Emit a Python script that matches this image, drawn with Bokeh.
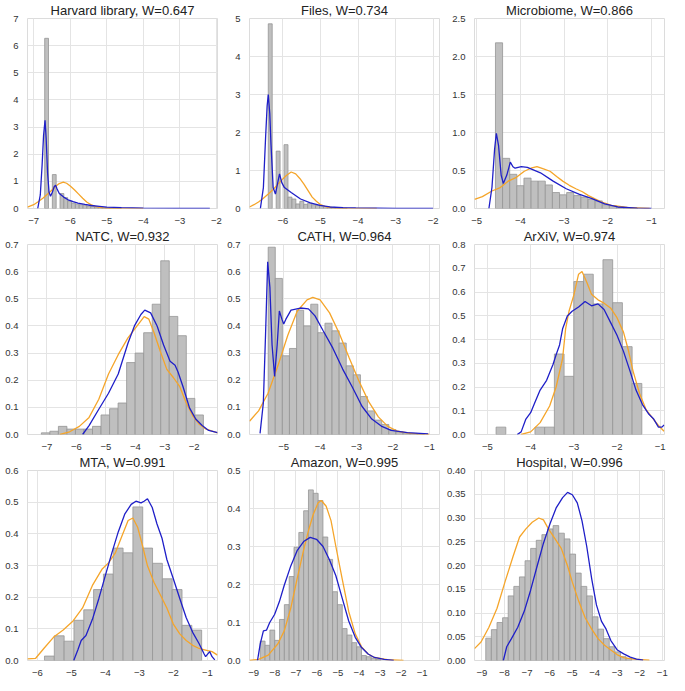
from bokeh.plotting import figure
from bokeh.layouts import gridplot
from bokeh.models import FixedTicker, Range1d
from bokeh.embed import file_html
from bokeh.resources import INLINE

# ---------------- data ----------------
titles = ["Harvard library, W=0.647", "Files, W=0.734", "Microbiome, W=0.866",
          "NATC, W=0.932", "CATH, W=0.964", "ArXiV, W=0.974",
          "MTA, W=0.991", "Amazon, W=0.995", "Hospital, W=0.996"]

# Harvard library
harvard_bin_start = -6.70
harvard_bin_width = 0.105
harvard_hist = [6.27, 0, 1.25, 0, 0.55, 0.40, 0.28, 0.20, 0.16, 0.14, 0.12, 0.09,
                0.07, 0.05, 0.04, 0.03, 0.02, 0.02, 0.01, 0.01]
harvard_blue_x = [-6.89, -6.82, -6.77, -6.73, -6.69, -6.66, -6.62, -6.58, -6.54, -6.49, -6.44,
                  -6.40, -6.36, -6.30, -6.18, -6.06, -5.92, -5.79, -5.60, -5.43, -5.20, -5.00,
                  -4.60, -4.00, -3.00, -2.18]
harvard_blue_y = [0, 0.5, 1.6, 2.7, 3.25, 2.6, 1.3, 0.6, 0.45, 0.6, 0.8, 0.86, 0.72, 0.55,
                  0.42, 0.32, 0.25, 0.20, 0.15, 0.11, 0.08, 0.05, 0.03, 0.015, 0.005, 0]
harvard_orange_x = [-7.17, -7.00, -6.89, -6.75, -6.62, -6.50, -6.40, -6.30, -6.19, -6.10, -6.00,
                    -5.88, -5.77, -5.66, -5.55, -5.43, -5.32, -5.20, -5.10, -4.92, -4.50, -4.00]
harvard_orange_y = [0.05, 0.14, 0.24, 0.38, 0.53, 0.68, 0.82, 0.92, 0.97, 0.93, 0.83, 0.68, 0.53,
                    0.38, 0.24, 0.14, 0.08, 0.04, 0.02, 0.005, 0, 0]

# Files
files_bin_start = -6.39
files_bin_width = 0.105
files_hist = [4.86, 0, 1.51, 0, 1.68, 0.30, 0.25, 0.12, 0.19, 0.11, 0.14, 0.10, 0.08, 0.07,
              0.05, 0.04, 0.03, 0.02, 0.02, 0.01]
files_blue_x = [-6.60, -6.52, -6.46, -6.42, -6.39, -6.35, -6.32, -6.26, -6.20, -6.13, -6.09,
                -6.03, -5.96, -5.78, -5.53, -5.27, -5.01, -4.75, -4.40, -4.06, -3.00, -2.00]
files_blue_y = [0, 0.55, 1.9, 2.7, 3.0, 2.5, 1.74, 0.55, 0.38, 0.72, 0.91, 0.68, 0.55, 0.42,
                0.25, 0.15, 0.08, 0.04, 0.025, 0.015, 0.004, 0]
files_orange_x = [-6.89, -6.77, -6.65, -6.52, -6.39, -6.26, -6.13, -6.02, -5.91, -5.78, -5.66,
                  -5.55, -5.44, -5.33, -5.22, -5.11, -5.01, -4.84, -4.58, -4.20, -3.50]
files_orange_y = [0.04, 0.10, 0.17, 0.27, 0.38, 0.50, 0.64, 0.76, 0.87, 0.96, 0.91, 0.79, 0.64,
                  0.47, 0.30, 0.19, 0.11, 0.04, 0.01, 0, 0]

# Microbiome
micro_bin_start = -4.57
micro_bin_width = 0.163
micro_hist = [2.18, 0.66, 0.45, 0.30, 0.40, 0.36, 0.36, 0.31, 0.21, 0.18, 0.21, 0.17, 0.15,
              0.12, 0.10, 0.05, 0.035, 0.02, 0.01, 0.005]
micro_blue_x = [-4.72, -4.65, -4.59, -4.55, -4.50, -4.44, -4.39, -4.31, -4.23, -4.17, -4.12,
                -3.98, -3.84, -3.54, -3.25, -2.95, -2.66, -2.36, -2.07, -1.77, -1.33, -1.00]
micro_blue_y = [0, 0.28, 0.78, 0.99, 0.83, 0.44, 0.33, 0.44, 0.61, 0.55, 0.53, 0.55, 0.54,
                0.47, 0.36, 0.26, 0.19, 0.13, 0.06, 0.02, 0.005, 0]
micro_orange_x = [-5.05, -4.87, -4.65, -4.46, -4.28, -4.09, -3.91, -3.76, -3.62, -3.47, -3.32,
                  -3.17, -3.03, -2.88, -2.73, -2.58, -2.44, -2.29, -2.14, -2.03, -1.92, -1.77,
                  -1.55, -1.33, -1.04]
micro_orange_y = [0.12, 0.157, 0.23, 0.275, 0.36, 0.41, 0.49, 0.53, 0.55, 0.52, 0.49, 0.42,
                  0.36, 0.305, 0.26, 0.22, 0.17, 0.127, 0.085, 0.064, 0.04, 0.03, 0.013, 0.008, 0]

# NATC
natc_bin_start = -7.19
natc_bin_width = 0.2895
natc_hist = [0.006, 0.012, 0.03, 0.02, 0.02, 0.02, 0.03, 0.072, 0.095, 0.116, 0.265, 0.30,
             0.375, 0.48, 0.64, 0.435, 0.364, 0.133, 0.072]
natc_blue_x = [-5.79, -5.57, -5.24, -4.91, -4.58, -4.25, -4.03, -3.81, -3.68, -3.48, -3.26,
               -3.04, -2.82, -2.65, -2.55, -2.38, -2.16, -1.95, -1.73, -1.51, -1.21]
natc_blue_y = [0, 0.033, 0.093, 0.152, 0.223, 0.336, 0.40, 0.442, 0.458, 0.448, 0.40, 0.33,
               0.27, 0.255, 0.23, 0.176, 0.098, 0.057, 0.033, 0.015, 0.007]
natc_orange_x = [-6.56, -6.23, -5.90, -5.57, -5.24, -4.91, -4.58, -4.25, -3.92, -3.70, -3.54,
                 -3.37, -3.15, -2.93, -2.71, -2.49, -2.27, -2.05, -1.84, -1.62, -1.21]
natc_orange_y = [0, 0.01, 0.03, 0.063, 0.13, 0.223, 0.294, 0.356, 0.403, 0.434, 0.425, 0.377,
                 0.306, 0.24, 0.21, 0.176, 0.116, 0.069, 0.039, 0.021, 0.006]

# CATH
cath_bin_start = -5.427
cath_bin_width = 0.195
cath_hist = [0.69, 0.575, 0.29, 0.317, 0.458, 0.40, 0.48, 0.375, 0.41, 0.382, 0.337, 0.253,
             0.22, 0.14, 0.087, 0.053, 0.037, 0.018, 0.01, 0.006, 0.004, 0.002]
cath_blue_x = [-5.65, -5.56, -5.50, -5.44, -5.38, -5.32, -5.25, -5.18, -5.12, -5.05, -5.00,
               -4.94, -4.80, -4.54, -4.32, -4.14, -3.92, -3.65, -3.38, -3.12, -2.85, -2.58,
               -2.32, -2.05, -1.60, -1.03]
cath_blue_y = [0.004, 0.116, 0.365, 0.636, 0.543, 0.33, 0.214, 0.33, 0.455, 0.425, 0.407,
               0.425, 0.458, 0.466, 0.463, 0.437, 0.383, 0.318, 0.241, 0.176, 0.104, 0.057,
               0.031, 0.015, 0.007, 0.002]
cath_orange_x = [-5.94, -5.69, -5.43, -5.16, -4.89, -4.63, -4.36, -4.20, -4.00, -3.74, -3.47,
                 -3.20, -2.94, -2.67, -2.40, -2.14, -1.87, -1.52, -1.00]
cath_orange_y = [0.049, 0.087, 0.152, 0.253, 0.365, 0.454, 0.496, 0.505, 0.496, 0.448, 0.371,
                 0.282, 0.199, 0.122, 0.065, 0.030, 0.012, 0.004, 0]

# ArXiV
arxiv_bin_start = -4.80
arxiv_bin_width = 0.225
arxiv_hist = [0.031, 0, 0, 0, 0.031, 0.031, 0.339, 0.245, 0.644, 0.675, 0.55, 0.736, 0.555,
              0.37, 0.215]
arxiv_blue_x = [-4.31, -4.22, -4.11, -4.00, -3.89, -3.78, -3.63, -3.48, -3.41, -3.33, -3.26,
                -3.15, -3.04, -2.89, -2.74, -2.59, -2.44, -2.30, -2.15, -2.00, -1.85, -1.70,
                -1.56, -1.41, -1.26, -1.15, -1.04, -0.96, -0.91]
arxiv_blue_y = [0, 0.011, 0.065, 0.092, 0.14, 0.187, 0.228, 0.296, 0.336, 0.377, 0.445, 0.499,
                0.519, 0.537, 0.56, 0.542, 0.55, 0.526, 0.472, 0.418, 0.35, 0.268, 0.187, 0.126,
                0.085, 0.065, 0.031, 0.031, 0.04]
arxiv_orange_x = [-4.22, -4.00, -3.78, -3.56, -3.41, -3.26, -3.19, -3.11, -3.00, -2.89, -2.81,
                  -2.70, -2.59, -2.44, -2.30, -2.15, -2.00, -1.85, -1.74, -1.63, -1.48, -1.33,
                  -1.19, -1.04, -0.91]
arxiv_orange_y = [0, 0.011, 0.05, 0.12, 0.20, 0.32, 0.445, 0.52, 0.587, 0.675, 0.686, 0.641,
                  0.591, 0.567, 0.553, 0.533, 0.492, 0.431, 0.357, 0.268, 0.174, 0.106, 0.072,
                  0.038, 0.014]

# MTA
mta_bin_start = -5.79
mta_bin_width = 0.289
mta_hist = [0.014, 0.078, 0.061, 0.127, 0.16, 0.224, 0.273, 0.355, 0.34, 0.485, 0.355, 0.307,
            0.258, 0.224, 0.111, 0.096]
mta_blue_x = [-4.93, -4.81, -4.71, -4.57, -4.38, -4.19, -4.00, -3.81, -3.62, -3.43, -3.24,
              -3.10, -2.95, -2.86, -2.76, -2.62, -2.48, -2.33, -2.19, -2.00, -1.81, -1.62,
              -1.43, -1.24, -1.10, -1.05, -0.93, -0.86, -0.78]
mta_blue_y = [0, 0.033, 0.063, 0.079, 0.13, 0.196, 0.268, 0.339, 0.406, 0.462, 0.493, 0.503,
              0.498, 0.503, 0.511, 0.483, 0.431, 0.385, 0.319, 0.258, 0.196, 0.135, 0.089,
              0.053, 0.022, 0.012, 0.028, 0.012, 0.002]
mta_orange_x = [-6.29, -6.05, -5.81, -5.52, -5.24, -4.95, -4.67, -4.38, -4.10, -3.90, -3.71,
                -3.52, -3.33, -3.19, -3.05, -2.90, -2.76, -2.57, -2.38, -2.19, -2.00, -1.81,
                -1.62, -1.43, -1.24, -1.05, -0.86, -0.70]
mta_orange_y = [0.005, 0.007, 0.038, 0.074, 0.096, 0.125, 0.166, 0.237, 0.288, 0.309, 0.339,
                0.391, 0.442, 0.45, 0.421, 0.36, 0.299, 0.247, 0.207, 0.166, 0.115, 0.084,
                0.063, 0.048, 0.038, 0.033, 0.028, 0.017]

# Amazon
amazon_bin_start = -8.69
amazon_bin_width = 0.229
amazon_hist = [0.051, 0.04, 0.08, 0.053, 0.108, 0.147, 0.221, 0.298, 0.337, 0.394, 0.449,
               0.44, 0.421, 0.325, 0.266, 0.181, 0.147, 0.084, 0.067, 0.047, 0.036, 0.013,
               0.01, 0.006, 0.003]
amazon_blue_x = [-8.82, -8.69, -8.54, -8.39, -8.24, -8.01, -7.78, -7.55, -7.24, -6.94, -6.63,
                 -6.32, -6.02, -5.71, -5.41, -5.10, -4.80, -4.49, -4.18, -3.88, -3.57, -3.27,
                 -2.81, -2.35]
amazon_blue_y = [0, 0.044, 0.078, 0.08, 0.10, 0.121, 0.155, 0.198, 0.249, 0.289, 0.313, 0.324,
                 0.319, 0.30, 0.266, 0.223, 0.164, 0.104, 0.061, 0.034, 0.017, 0.008, 0.003, 0]
amazon_orange_x = [-9.20, -8.77, -8.31, -7.85, -7.55, -7.24, -6.94, -6.63, -6.40, -6.17,
                   -5.94, -5.79, -5.56, -5.33, -5.10, -4.80, -4.49, -4.18, -3.88, -3.57,
                   -3.27, -2.65, -1.89]
amazon_orange_y = [0, 0.003, 0.014, 0.044, 0.078, 0.138, 0.215, 0.291, 0.342, 0.385, 0.415,
                   0.421, 0.406, 0.368, 0.30, 0.215, 0.129, 0.07, 0.036, 0.017, 0.008, 0.002, 0]

# Hospital
hosp_bin_start = -8.83
hosp_bin_width = 0.249
hosp_hist = [0.047, 0.065, 0.08, 0.09, 0.136, 0.156, 0.176, 0.21, 0.236, 0.253, 0.265, 0.277,
             0.284, 0.268, 0.256, 0.224, 0.184, 0.156, 0.136, 0.092, 0.066, 0.046, 0.029,
             0.018, 0.008, 0.004]
hosp_blue_x = [-8.05, -7.90, -7.69, -7.41, -7.12, -6.84, -6.55, -6.27, -5.98, -5.70, -5.42,
               -5.20, -4.99, -4.77, -4.56, -4.35, -4.13, -3.92, -3.70, -3.49, -3.28, -2.99,
               -2.71, -2.42, -2.14, -1.85]
hosp_blue_y = [0, 0.029, 0.046, 0.07, 0.104, 0.148, 0.199, 0.247, 0.288, 0.322, 0.343, 0.354,
               0.349, 0.332, 0.294, 0.24, 0.172, 0.117, 0.083, 0.066, 0.042, 0.022, 0.014,
               0.007, 0.003, 0.001]
hosp_orange_x = [-9.33, -9.04, -8.69, -8.33, -7.98, -7.62, -7.33, -7.05, -6.77, -6.48, -6.27,
                 -6.05, -5.77, -5.48, -5.20, -4.99, -4.70, -4.42, -4.13, -3.85, -3.56, -3.28,
                 -2.99, -2.71, -2.28, -1.57]
hosp_orange_y = [0.025, 0.039, 0.07, 0.11, 0.165, 0.219, 0.26, 0.277, 0.291, 0.30, 0.296,
                 0.277, 0.257, 0.236, 0.199, 0.165, 0.124, 0.09, 0.066, 0.046, 0.032, 0.022,
                 0.012, 0.006, 0.003, 0.001]

# axis extents and ticks
x_ranges = [(-7.17, -1.97), (-6.89, -1.83), (-5.05, -0.70),
            (-7.66, -1.21), (-5.94, -0.72), (-5.30, -0.90),
            (-6.29, -0.70), (-9.20, -0.18), (-9.33, -0.90)]
y_max = [7, 5, 2.5, 0.7, 0.7, 0.8, 0.6, 0.5, 0.40]
x_ticks = [[-7, -6, -5, -4, -3, -2], [-6, -5, -4, -3, -2], [-5, -4, -3, -2, -1],
           [-7, -6, -5, -4, -3, -2], [-5, -4, -3, -2, -1], [-5, -4, -3, -2, -1],
           [-6, -5, -4, -3, -2, -1], [-9, -8, -7, -6, -5, -4, -3, -2, -1],
           [-9, -8, -7, -6, -5, -4, -3, -2, -1]]
y_ticks = [[0, 1, 2, 3, 4, 5, 6, 7], [0, 1, 2, 3, 4, 5], [0, 0.5, 1.0, 1.5, 2.0, 2.5],
           [0, 0.1, 0.2, 0.3, 0.4, 0.5, 0.6, 0.7], [0, 0.1, 0.2, 0.3, 0.4, 0.5, 0.6, 0.7],
           [0, 0.1, 0.2, 0.3, 0.4, 0.5, 0.6, 0.7, 0.8], [0, 0.1, 0.2, 0.3, 0.4, 0.5, 0.6],
           [0, 0.1, 0.2, 0.3, 0.4, 0.5],
           [0, 0.05, 0.10, 0.15, 0.20, 0.25, 0.30, 0.35, 0.40]]
y_tick_labels = [["0", "1", "2", "3", "4", "5", "6", "7"], ["0", "1", "2", "3", "4", "5"],
                 ["0.0", "0.5", "1.0", "1.5", "2.0", "2.5"],
                 ["0.0", "0.1", "0.2", "0.3", "0.4", "0.5", "0.6", "0.7"],
                 ["0.0", "0.1", "0.2", "0.3", "0.4", "0.5", "0.6", "0.7"],
                 ["0.0", "0.1", "0.2", "0.3", "0.4", "0.5", "0.6", "0.7", "0.8"],
                 ["0.0", "0.1", "0.2", "0.3", "0.4", "0.5", "0.6"],
                 ["0.0", "0.1", "0.2", "0.3", "0.4", "0.5"],
                 ["0.00", "0.05", "0.10", "0.15", "0.20", "0.25", "0.30", "0.35", "0.40"]]

hists = [(harvard_bin_start, harvard_bin_width, harvard_hist),
         (files_bin_start, files_bin_width, files_hist),
         (micro_bin_start, micro_bin_width, micro_hist),
         (natc_bin_start, natc_bin_width, natc_hist),
         (cath_bin_start, cath_bin_width, cath_hist),
         (arxiv_bin_start, arxiv_bin_width, arxiv_hist),
         (mta_bin_start, mta_bin_width, mta_hist),
         (amazon_bin_start, amazon_bin_width, amazon_hist),
         (hosp_bin_start, hosp_bin_width, hosp_hist)]
blues = [(harvard_blue_x, harvard_blue_y), (files_blue_x, files_blue_y),
         (micro_blue_x, micro_blue_y), (natc_blue_x, natc_blue_y), (cath_blue_x, cath_blue_y),
         (arxiv_blue_x, arxiv_blue_y), (mta_blue_x, mta_blue_y),
         (amazon_blue_x, amazon_blue_y), (hosp_blue_x, hosp_blue_y)]
oranges = [(harvard_orange_x, harvard_orange_y), (files_orange_x, files_orange_y),
           (micro_orange_x, micro_orange_y), (natc_orange_x, natc_orange_y),
           (cath_orange_x, cath_orange_y), (arxiv_orange_x, arxiv_orange_y),
           (mta_orange_x, mta_orange_y), (amazon_orange_x, amazon_orange_y),
           (hosp_orange_x, hosp_orange_y)]

# ---------------- drawing ----------------
FONT = "Liberation Sans"
GRID = "#e4e4e4"
TXT = "#333333"


def minus(v):
    s = str(int(v)) if float(v).is_integer() else str(v)
    return s.replace("-", "\u2212")


def make_panel(i):
    p = figure(frame_width=190, frame_height=190,
               x_range=Range1d(*x_ranges[i]), y_range=Range1d(0, y_max[i]),
               output_backend="svg", toolbar_location=None,
               min_border_left=27, min_border_right=5, min_border_top=0, min_border_bottom=3)
    p.title.text = titles[i]
    p.title.align = "center"
    p.title.text_font = FONT
    p.title.text_font_style = "normal"
    p.title.text_font_size = "13px"
    p.title.text_color = "#222222"
    p.title.standoff = 1

    start, w, heights = hists[i]
    lefts, rights, tops = [], [], []
    for k, h in enumerate(heights):
        if h > 0:
            lefts.append(start + k * w)
            rights.append(start + (k + 1) * w)
            tops.append(h)
    p.quad(left=lefts, right=rights, bottom=0, top=tops,
           fill_color="#bfbfbf", line_color="#959595", line_width=0.8)
    ox, oy = oranges[i]
    p.line(ox, oy, line_color="#F5A52A", line_width=1.3)
    bx, by = blues[i]
    p.line(bx, by, line_color="#1f1fc8", line_width=1.3)

    p.xaxis.ticker = FixedTicker(ticks=x_ticks[i])
    p.xaxis.major_label_overrides = {t: minus(t) for t in x_ticks[i]}
    p.yaxis.ticker = FixedTicker(ticks=y_ticks[i])
    p.yaxis.major_label_overrides = {t: l for t, l in zip(y_ticks[i], y_tick_labels[i])}
    for ax in (p.xaxis, p.yaxis):
        ax.axis_line_color = None
        ax.major_tick_line_color = None
        ax.minor_tick_line_color = None
        ax.major_label_text_font = FONT
        ax.major_label_text_font_size = "9.5px"
        ax.major_label_text_color = TXT
        ax.major_label_standoff = 3
    p.xgrid.grid_line_color = GRID
    p.ygrid.grid_line_color = GRID
    p.outline_line_color = "#dcdcdc"
    p.background_fill_color = "white"
    return p


panels = [make_panel(i) for i in range(9)]
grid = gridplot([panels[0:3], panels[3:6], panels[6:9]], toolbar_location=None)

open("out.html", "w").write(file_html(grid, INLINE))
